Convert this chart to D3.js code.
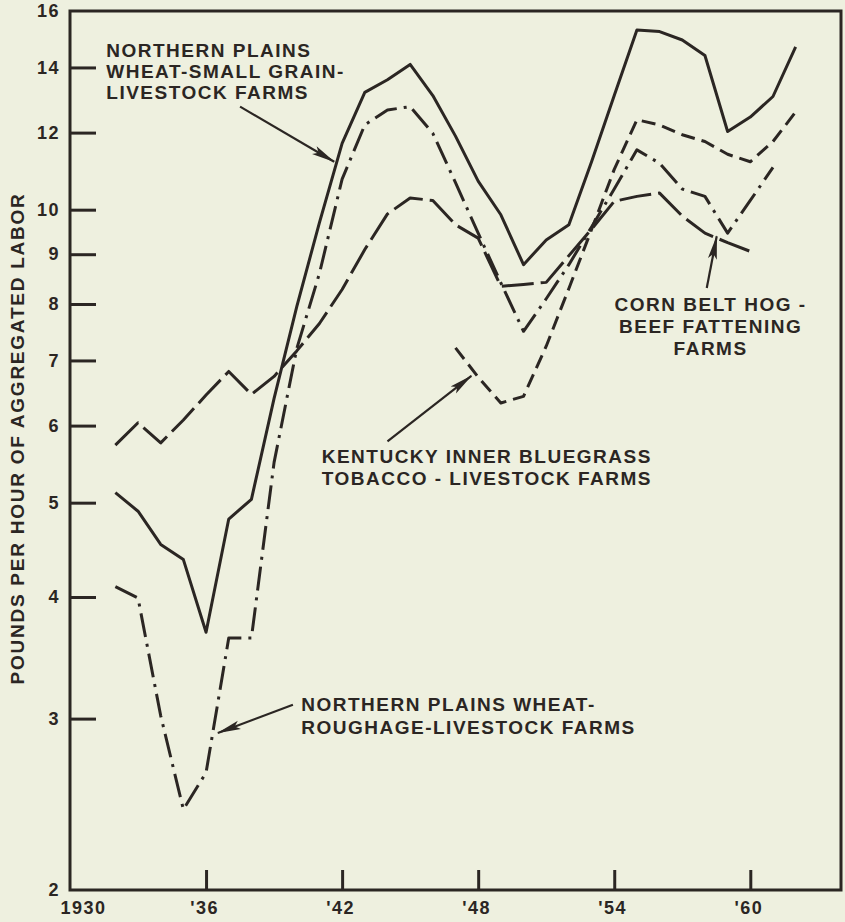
<!DOCTYPE html>
<html>
<head>
<meta charset="utf-8">
<script src="https://cdn.jsdelivr.net/npm/d3@7"></script>
<style>
  html, body { margin: 0; padding: 0; background: #eef0df; }
  svg { display: block; }
  text { font-family: "Liberation Sans", Arial, sans-serif; font-weight: bold; fill: #2b2623; }
</style>
</head>
<body>
<svg id="chart" width="845" height="922"></svg>
<script>
// ---- Data (pounds per hour of aggregated labor, log scale) ----
const yearsSmallGrain = [1932,1933,1934,1935,1936,1937,1938,1939,1940,1941,1942,1943,1944,1945,1946,1947,1948,1949,1950,1951,1952,1953,1954,1955,1956,1957,1958,1959,1960,1961,1962];
const valuesSmallGrain = [5.12,4.90,4.53,4.37,3.68,4.81,5.04,6.4,7.95,9.7,11.7,13.2,13.6,14.1,13.1,11.9,10.7,9.88,8.78,9.31,9.65,11.2,13.1,15.3,15.24,14.94,14.4,12.03,12.45,13.07,14.7];

const yearsRoughage = [1932,1933,1934,1935,1936,1937,1938,1939,1940,1941,1942,1943,1944,1945,1946,1947,1948,1949,1950,1951,1952,1953,1954,1955,1956,1957,1958,1959,1960,1961];
const valuesRoughage = [4.10,3.99,3.02,2.42,2.64,3.63,3.63,5.5,7.2,8.6,10.75,12.22,12.66,12.76,11.98,10.66,9.46,8.41,7.5,8.1,8.78,9.6,10.5,11.52,11.16,10.5,10.32,9.46,10.22,11.05];

const yearsCornBelt = [1932,1933,1934,1935,1936,1937,1938,1939,1940,1941,1942,1943,1944,1945,1946,1947,1948,1949,1950,1951,1952,1953,1954,1955,1956,1957,1958,1959,1960];
const valuesCornBelt = [5.73,6.04,5.76,6.08,6.45,6.82,6.46,6.74,7.16,7.64,8.28,9.1,9.9,10.28,10.22,9.65,9.35,8.34,8.38,8.42,8.97,9.55,10.2,10.32,10.4,9.85,9.46,9.25,9.06];

const yearsKentucky = [1947,1948,1949,1950,1951,1952,1953,1954,1955,1956,1957,1958,1959,1960,1961,1962];
const valuesKentucky = [7.21,6.73,6.33,6.43,7.24,8.3,9.54,11.0,12.37,12.22,11.94,11.75,11.4,11.2,11.75,12.6];

const yTickValues = [2,3,4,5,6,7,8,9,10,12,14,16];
const xTickValues = [1930,1936,1942,1948,1954,1960];
const xTickLabels = ["1930","'36","'42","'48","'54","'60"];
const yAxisTitle = "POUNDS PER HOUR OF AGGREGATED LABOR";

// annotations in data space: [year, value]
const annotations = [
  { lines: ["NORTHERN PLAINS", "WHEAT-SMALL GRAIN-", "LIVESTOCK FARMS"], at: [1931.6, 14.36], anchor: "start", lh: 21.3,
    arrowFrom: [1937.5, 12.76], arrowTo: [1941.65, 11.2] },
  { lines: ["KENTUCKY INNER BLUEGRASS", "TOBACCO - LIVESTOCK FARMS"], at: [1941.1, 5.49], anchor: "start", lh: 21.5,
    arrowFrom: [1944.0, 5.78], arrowTo: [1947.7, 6.75] },
  { lines: ["CORN BELT HOG -", "BEEF FATTENING", "FARMS"], at: [1958.25, 7.86], anchor: "middle", lh: 21.7,
    arrowFrom: [1958.08, 8.31], arrowTo: [1958.52, 9.39] },
  { lines: ["NORTHERN PLAINS WHEAT-", "ROUGHAGE-LIVESTOCK FARMS"], at: [1940.2, 3.055], anchor: "start", lh: 23.3,
    arrowFrom: [1939.83, 3.10], arrowTo: [1936.52, 2.90] }
];

// ---- Drawing ----
const ink = "#2b2623";
const svg = d3.select("#chart");
const x = d3.scaleLinear().domain([1930, 1964]).range([70, 841]);
const y = d3.scaleLog().domain([2, 16]).range([890, 11]);

// frame
svg.append("rect")
  .attr("x", x(1930)).attr("y", y(16))
  .attr("width", x(1964) - x(1930)).attr("height", y(2) - y(16))
  .attr("fill", "none").attr("stroke", ink).attr("stroke-width", 3);

// y axis
const yAxis = svg.append("g").attr("transform", `translate(${x(1930)},0)`)
  .call(d3.axisLeft(y).tickValues(yTickValues).tickFormat(d3.format("d")).tickSize(-26).tickPadding(10));
yAxis.select(".domain").remove();
yAxis.selectAll(".tick line").attr("stroke", ink).attr("stroke-width", 3)
  .filter(d => d === 2 || d === 16).remove();
yAxis.selectAll(".tick text").attr("font-size", 18).attr("letter-spacing", 1.5)
  .attr("font-family", "Liberation Sans, Arial, sans-serif").attr("font-weight", "bold").attr("fill", ink);

// x axis
const xAxis = svg.append("g").attr("transform", `translate(0,${y(2)})`)
  .call(d3.axisBottom(x).tickValues(xTickValues).tickFormat((d, i) => xTickLabels[i]).tickSize(-20).tickPadding(11));
xAxis.select(".domain").remove();
xAxis.selectAll(".tick line").attr("stroke", ink).attr("stroke-width", 3)
  .filter(d => d === 1930).remove();
xAxis.selectAll(".tick text").attr("font-size", 18).attr("letter-spacing", 1.5)
  .attr("font-family", "Liberation Sans, Arial, sans-serif").attr("font-weight", "bold").attr("fill", ink)
  .attr("dx", d => d === 1930 ? 13 : -2);

// y axis title
svg.append("text")
  .attr("transform", `translate(24,${y(Math.sqrt(2 * 16)) - 12}) rotate(-90)`)
  .attr("text-anchor", "middle").attr("font-size", 19).attr("letter-spacing", 1.75)
  .text(yAxisTitle);

// lines
const line = d3.line().x(d => x(d[0])).y(d => y(d[1])).curve(d3.curveLinear);
const series = [
  { years: yearsSmallGrain, values: valuesSmallGrain, dash: null },
  { years: yearsRoughage, values: valuesRoughage, dash: "24,7,3,7" },
  { years: yearsCornBelt, values: valuesCornBelt, dash: "32,7" },
  { years: yearsKentucky, values: valuesKentucky, dash: "14,7" }
];
series.forEach(s => {
  svg.append("path")
    .datum(s.years.map((yr, i) => [yr, s.values[i]]))
    .attr("d", line)
    .attr("fill", "none").attr("stroke", ink).attr("stroke-width", 3)
    .attr("stroke-linejoin", "round").attr("stroke-linecap", "butt")
    .attr("stroke-dasharray", s.dash);
});

// arrowhead marker
svg.append("defs").append("marker")
  .attr("id", "arrow").attr("markerUnits", "userSpaceOnUse")
  .attr("viewBox", "0 0 24 10").attr("refX", 23).attr("refY", 5)
  .attr("markerWidth", 24).attr("markerHeight", 10).attr("orient", "auto")
  .append("path").attr("d", "M0,0.5 L24,5 L0,9.5 L5,5 Z").attr("fill", ink);

// annotations
annotations.forEach(a => {
  const t = svg.append("text")
    .attr("x", x(a.at[0])).attr("y", y(a.at[1]))
    .attr("text-anchor", a.anchor).attr("font-size", 19).attr("letter-spacing", 1.5);
  a.lines.forEach((ln, i) => {
    t.append("tspan").attr("x", x(a.at[0])).attr("y", y(a.at[1]) + i * a.lh).text(ln);
  });
  svg.append("line")
    .attr("x1", x(a.arrowFrom[0])).attr("y1", y(a.arrowFrom[1]))
    .attr("x2", x(a.arrowTo[0])).attr("y2", y(a.arrowTo[1]))
    .attr("stroke", ink).attr("stroke-width", 2.2)
    .attr("marker-end", "url(#arrow)");
});
</script>
</body>
</html>
